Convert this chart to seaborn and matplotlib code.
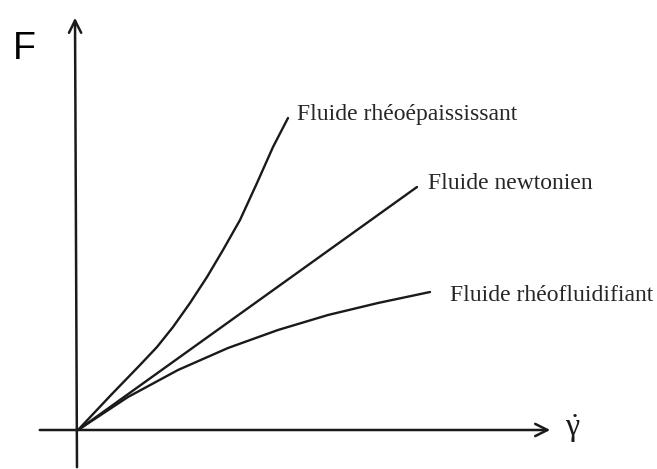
import pandas as pd
import numpy as np
import matplotlib.pyplot as plt
import seaborn as sns

# courbes (x = gamma point, y = F), unités arbitraires
x_epais = [0, 33, 62, 79, 95, 112, 129, 145, 162, 179, 195, 210]
y_epais = [0, 35, 65, 83, 103, 127, 153, 180, 210, 247, 283, 312]

x_newton = [0, 339]
y_newton = [0, 243]

x_fluid = [0, 50, 100, 150, 200, 250, 300, 352]
y_fluid = [0, 33, 60, 82, 100, 115, 127, 138]

noms = ['Fluide rhéoépaississant', 'Fluide newtonien', 'Fluide rhéofluidifiant']

df = pd.concat([
    pd.DataFrame({'x': x_epais, 'y': y_epais, 'fluide': noms[0]}),
    pd.DataFrame({'x': x_newton, 'y': y_newton, 'fluide': noms[1]}),
    pd.DataFrame({'x': x_fluid, 'y': y_fluid, 'fluide': noms[2]}),
])

sns.set_style('white')
plt.rcParams['mathtext.fontset'] = 'custom'
plt.rcParams['mathtext.rm'] = 'Liberation Serif'
plt.rcParams['mathtext.it'] = 'Liberation Serif'

fig = plt.figure(figsize=(6.57, 4.69), dpi=100)
ax = fig.add_axes([0, 0, 1, 1])

sns.lineplot(data=df, x='x', y='y', hue='fluide', units='fluide', estimator=None,
             sort=False, palette=['#1a1a1a'] * 3, linewidth=1.7, legend=False, ax=ax)
for ln in ax.lines:
    ln.set_solid_joinstyle('round')

ax.set_xlim(-78, 579)
ax.set_ylim(-39, 430)
ax.axis('off')

# axes avec flèches
ax.annotate('', xy=(475, 0), xytext=(-41, 0),
            arrowprops=dict(arrowstyle='->', lw=1.8, color='#1a1a1a', mutation_scale=22))
ax.annotate('', xy=(-3, 415), xytext=(-1, -40),
            arrowprops=dict(arrowstyle='->', lw=1.8, color='#1a1a1a', mutation_scale=22))

serif = dict(family='Liberation Serif', fontsize=17, color='#262626', va='center', ha='left')
ax.text(219, 316, noms[0], **serif)
ax.text(350, 247, noms[1], **serif)
ax.text(372, 135, noms[2], **serif)

ax.text(-54, 381, 'F', family='Liberation Sans', fontsize=27, ha='center', va='center', color='black')
ax.text(495, 1, r'$\dot{\gamma}$', fontsize=23, ha='center', va='center', color='#1a1a1a')

fig.savefig('out.png', dpi=100)
